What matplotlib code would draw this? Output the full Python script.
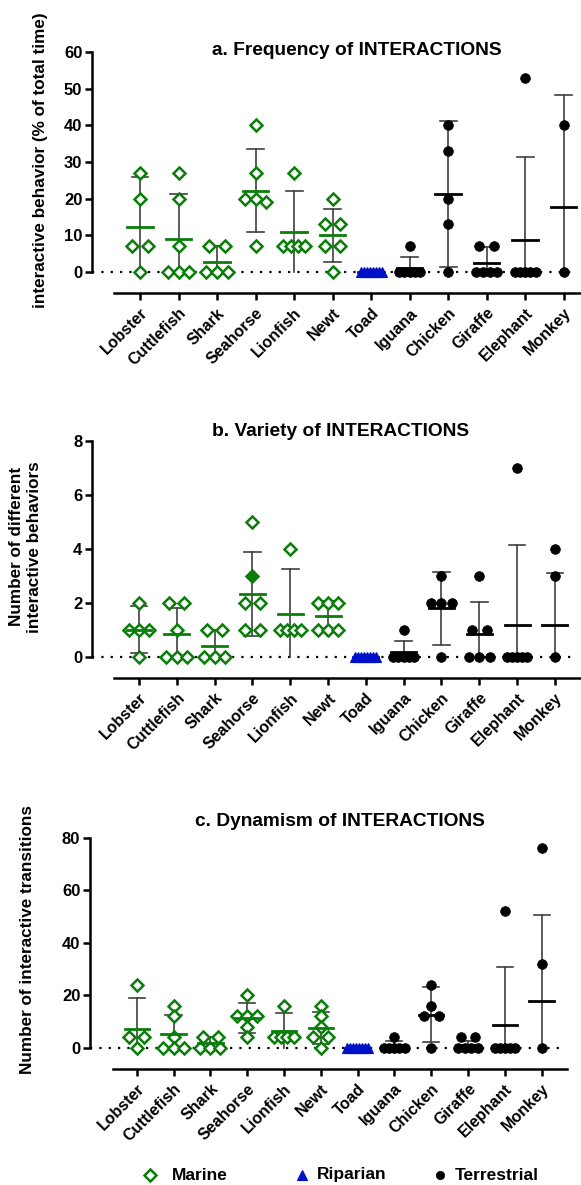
import matplotlib.pyplot as plt
import numpy as np
from matplotlib.lines import Line2D

plt.rcParams['font.family'] = ['Liberation Sans', 'DejaVu Sans']
plt.rcParams['font.weight'] = 'bold'

species = ["Lobster", "Cuttlefish", "Shark", "Seahorse", "Lionfish", "Newt",
           "Toad", "Iguana", "Chicken", "Giraffe", "Elephant", "Monkey"]
habitat = ["Marine"] * 6 + ["Riparian"] + ["Terrestrial"] * 5

# a. frequency (% of total time)
freq_points = [[27, 20, 7, 7, 0], [27, 20, 7, 0, 0, 0], [7, 7, 0, 0, 0],
               [40, 27, 20, 19, 20, 7], [27, 7, 7, 7, 7], [20, 13, 13, 7, 7, 0],
               [0] * 8, [7, 0, 0, 0, 0, 0], [40, 33, 20, 13, 0],
               [7, 7, 0, 0, 0, 0], [53, 0, 0, 0, 0, 0], [40, 0]]
freq_mean = [12.2, 9.0, 2.8, 22.2, 11.0, 10.0, 0, 1.2, 21.3, 2.5, 8.8, 17.7]
freq_sd = [13.7, 12.4, 4.2, 11.4, 11.1, 7.2, 0, 2.9, 19.8, 4.4, 22.7, 30.5]

# b. variety (number of different behaviors)
var_points = [[2, 1, 1, 1, 0], [2, 2, 1, 0, 0, 0], [1, 1, 0, 0, 0],
              [5, 3, 2, 2, 1, 1], [4, 1, 1, 1, 1], [2, 2, 2, 1, 1, 1],
              [0] * 8, [1, 0, 0, 0, 0, 0], [3, 2, 2, 2, 0],
              [3, 1, 1, 0, 0, 0], [7, 0, 0, 0, 0, 0], [4, 3, 0]]
var_mean = [1.0, 0.83, 0.4, 2.33, 1.6, 1.5, 0, 0.17, 1.8, 0.83, 1.17, 1.17]
var_sd = [0.87, 0.97, 0.6, 1.57, 1.64, 0.55, 0, 0.41, 1.35, 1.21, 2.97, 1.92]
var_filled = {"Seahorse": [3]}

# c. dynamism (number of transitions)
dyn_points = [[24, 4, 4, 0], [16, 12, 4, 0, 0, 0], [4, 4, 0, 0, 0],
              [20, 12, 12, 12, 8, 4], [16, 4, 4, 4, 4], [16, 12, 8, 4, 4, 0],
              [0] * 8, [4, 0, 0, 0, 0, 0], [24, 16, 12, 12, 0],
              [4, 4, 0, 0, 0, 0], [52, 0, 0, 0, 0, 0], [76, 32, 0]]
dyn_mean = [7.1, 5.3, 1.9, 11.3, 6.4, 7.4, 0, 0.67, 12.6, 1.0, 8.6, 17.9]
dyn_sd = [11.7, 7.0, 2.2, 5.6, 6.7, 6.1, 0, 1.8, 10.5, 1.5, 22.3, 32.6]

legend_labels = ["Marine", "Riparian", "Terrestrial"]

GREEN = "#0a7d0a"
BLUE = "#0010c8"
style = {
    "Marine": dict(marker="D", ms=6.3, mfc="white", mec=GREEN, mew=1.8, color=GREEN),
    "Riparian": dict(marker="^", ms=6.5, mfc=BLUE, mec=BLUE, mew=0.8, color=BLUE),
    "Terrestrial": dict(marker="o", ms=7, mfc="black", mec="black", mew=0.5, color="black"),
}


def spread(values, tol):
    # horizontal offsets so equal values sit side by side
    order = np.argsort(values)[::-1]
    vals = np.array(values, dtype=float)[order]
    offsets = np.zeros(len(vals))
    groups, cur = [], [0]
    for i in range(1, len(vals)):
        if vals[cur[0]] - vals[i] < tol:
            cur.append(i)
        else:
            groups.append(cur)
            cur = [i]
    groups.append(cur)
    for g in groups:
        k = len(g)
        if k > 1:
            step = min(0.4, 0.55 / (k - 1))
            offsets[g] = (np.arange(k) - (k - 1) / 2) * step
    return vals, offsets


def draw_panel(ax, points, means, sds, ymax, yticks, xlim, xline, title, title_xy,
               ylabel, ylabel_xy, filled=None):
    ax.set_xlim(*xlim)
    ax.set_ylim(0, ymax)
    x = np.arange(len(species))
    ax.plot([xlim[0], xline[1] - 0.1], [0, 0], color="black", lw=1.6,
            ls=(0, (1, 3.2)), clip_on=False, zorder=1)
    for i, name in enumerate(species):
        st = style[habitat[i]]
        m, s = means[i], sds[i]
        if s > 0:
            lo = m - s
            ax.plot([x[i], x[i]], [max(lo, 0), m + s], color="#404040", lw=1.2,
                    clip_on=False, zorder=2)
            ax.plot([x[i] - 0.22, x[i] + 0.22], [m + s, m + s], color="#404040",
                    lw=1.2, clip_on=False, zorder=2)
            if lo >= 0:
                ax.plot([x[i] - 0.22, x[i] + 0.22], [lo, lo], color="#404040",
                        lw=1.2, clip_on=False, zorder=2)
        vals, offs = spread(points[i], ymax * 0.03)
        for v, o in zip(vals, offs):
            kw = dict(st)
            kw.pop("color")
            if filled and name in filled and v in filled[name]:
                kw["mfc"] = kw["mec"]
            ax.plot(x[i] + o, v, ls="none", clip_on=False, zorder=3, **kw)
        ax.plot([x[i] - 0.33, x[i] + 0.33], [m, m], color=st["color"], lw=2,
                clip_on=False, zorder=4)

    for sp in ["top", "right"]:
        ax.spines[sp].set_visible(False)
    ax.spines["left"].set_linewidth(1.8)
    ax.spines["left"].set_bounds(0, ymax)
    ax.spines["bottom"].set_linewidth(1.8)
    ax.spines["bottom"].set_position(("outward", 15))
    ax.spines["bottom"].set_bounds(*xline)
    ax.set_yticks(yticks)
    ax.set_yticklabels([str(t) for t in yticks], fontsize=12, fontweight="bold")
    ax.set_xticks(x)
    ax.set_xticklabels(species, rotation=45, ha="right", rotation_mode="anchor",
                       fontsize=11.5, fontweight="bold")
    ax.tick_params(axis="both", width=1.8, length=5, pad=2)
    ax.tick_params(axis="x", pad=4)
    ax.text(title_xy[0], title_xy[1], title, transform=ax.transAxes, ha="center",
            va="center", fontsize=13.8, fontweight="bold")
    ax.text(ylabel_xy[0], ylabel_xy[1], ylabel, transform=ax.transAxes, ha="center",
            va="center", rotation=90, fontsize=12.3, fontweight="bold",
            linespacing=1.25)


W, H = 581, 1185
fig = plt.figure(figsize=(W / 100, H / 100), dpi=100)

ax_a = fig.add_axes([92 / W, 1 - 272 / H, (W - 92) / W, 220 / H])
draw_panel(ax_a, freq_points, freq_mean, freq_sd, 60, [0, 10, 20, 30, 40, 50, 60],
           (-1.247, 11.45), (-0.675, 11.45), "a. Frequency of INTERACTIONS",
           (0.542, 1.009), "interactive behavior (% of total time)", (-0.106, 0.509))

ax_b = fig.add_axes([92 / W, 1 - 656.7 / H, (W - 92) / W, 215.7 / H])
draw_panel(ax_b, var_points, var_mean, var_sd, 8, [0, 2, 4, 6, 8],
           (-1.243, 11.69), (-0.66, 11.69), "b. Variety of INTERACTIONS",
           (0.509, 1.042), "Number of different\ninteractive behaviors", (-0.135, 0.509),
           filled=var_filled)

ax_c = fig.add_axes([90 / W, 1 - 1047.7 / H, 477 / W, 210 / H])
draw_panel(ax_c, dyn_points, dyn_mean, dyn_sd, 80, [0, 20, 40, 60, 80],
           (-1.27, 11.69), (-0.644, 11.69), "c. Dynamism of INTERACTIONS",
           (0.524, 1.075), "Number of interactive transitions", (-0.13, 0.513))

# legend placed entry by entry, as in the original layout
legend_x = [150, 302, 440]
for lab, lx in zip(legend_labels, legend_x):
    kw = dict(style[lab])
    kw.pop("color")
    if lab == "Terrestrial":
        kw["ms"] = 6
    fig.add_artist(Line2D([lx / W], [1 - 1175 / H], transform=fig.transFigure,
                          ls="none", **kw))
    fig.text((lx + 22) / W if lab == "Marine" else (lx + 15) / W, 1 - 1175 / H, lab,
             ha="left", va="center", fontsize=12.5, fontweight="bold")

fig.savefig("out.png", dpi=100)
